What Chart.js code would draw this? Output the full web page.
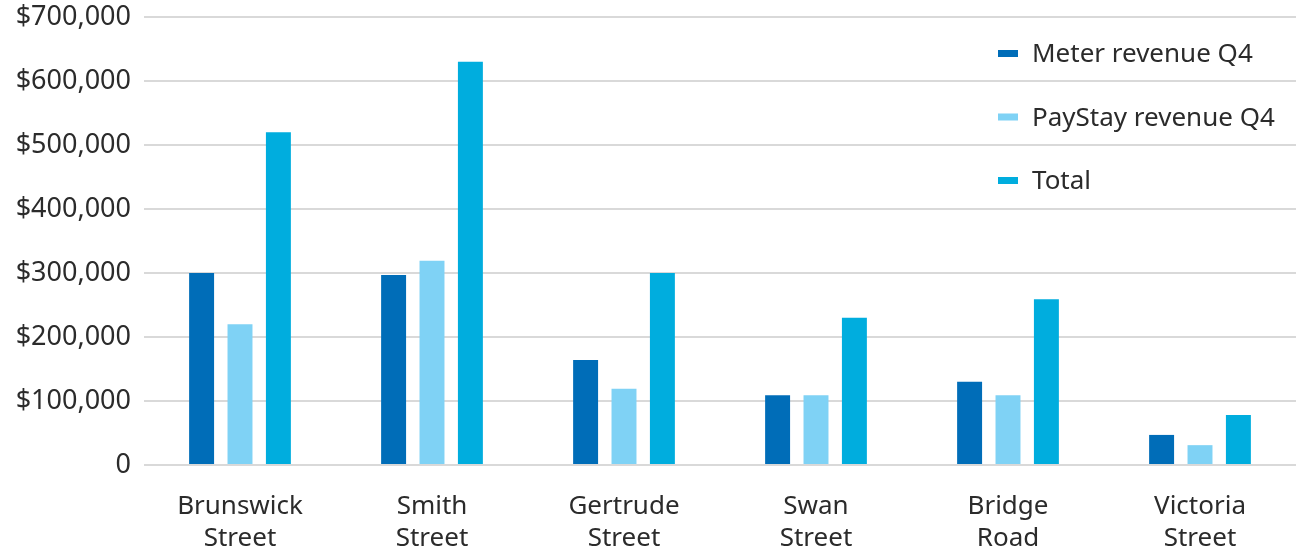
<!DOCTYPE html>
<html>
<head>
<meta charset="utf-8">
<script src="https://cdn.jsdelivr.net/npm/chart.js@4"></script>
<style>
  html, body { margin: 0; padding: 0; background: #fff; }
  #wrap { width: 1296px; height: 549px; }
</style>
</head>
<body>
<div id="wrap"><canvas id="myChart"></canvas></div>
<script>
const categories = [
    ['Brunswick', 'Street'],
    ['Smith', 'Street'],
    ['Gertrude', 'Street'],
    ['Swan', 'Street'],
    ['Bridge', 'Road'],
    ['Victoria', 'Street']
];
const meterRevenue = [300000, 297000, 164000, 109000, 130000, 47000];
const payStayRevenue = [220000, 319000, 119000, 109000, 109000, 31000];
const totalRevenue = [520000, 630000, 300000, 230000, 259000, 78000];
const yTicks = [0, 100000, 200000, 300000, 400000, 500000, 600000, 700000];

const FONT = '"Noto Sans", sans-serif';
const TEXT = '#2b2b2b';

// legend drawn inside the plot, top right, stacked vertically
const insideLegend = {
    id: 'insideLegend',
    afterDraw(chart) {
        const ctx = chart.ctx;
        ctx.save();
        ctx.font = '26px ' + FONT;
        ctx.textBaseline = 'middle';
        chart.data.datasets.forEach((ds, i) => {
            const y = 54 + i * 63.5;
            ctx.fillStyle = ds.backgroundColor;
            ctx.fillRect(998, y - 4, 20, 7);
            ctx.fillStyle = TEXT;
            ctx.fillText(ds.label, 1032, y + 1);
        });
        ctx.restore();
    }
};

const ctx = document.getElementById('myChart').getContext('2d');
new Chart(ctx, {
    type: 'bar',
    data: {
        labels: categories,
        datasets: [
            { label: 'Meter revenue Q4', data: meterRevenue, backgroundColor: '#006DB8' },
            { label: 'PayStay revenue Q4', data: payStayRevenue, backgroundColor: '#7FD2F5' },
            { label: 'Total', data: totalRevenue, backgroundColor: '#00ADDE' }
        ]
    },
    options: {
        responsive: true,
        maintainAspectRatio: false,
        animation: false,
        layout: { padding: { top: 17, right: 0, left: 0, bottom: 0 } },
        datasets: {
            bar: { categoryPercentage: 0.6, barPercentage: 0.65 }
        },
        plugins: {
            legend: { display: false },
            tooltip: { enabled: false }
        },
        scales: {
            x: {
                grid: { display: false },
                border: { display: false },
                ticks: {
                    color: TEXT,
                    font: { family: FONT, size: 26, lineHeight: 1.24 },
                    padding: 17,
                    maxRotation: 0
                },
                afterFit(scale) { scale.height = 84; }
            },
            y: {
                min: 0,
                max: 700000,
                afterBuildTicks(scale) { scale.ticks = yTicks.map(v => ({ value: v })); },
                grid: { color: '#d9d9d9', lineWidth: 2, drawTicks: false },
                border: { display: false },
                ticks: {
                    color: TEXT,
                    font: { family: FONT, size: 27 },
                    padding: 13,
                    callback: v => v === 0 ? '0' : '$' + v.toLocaleString('en-US')
                },
                afterFit(scale) {
                    scale.width = 144;
                    scale.paddingTop = 0;
                    scale.paddingBottom = 0;
                }
            }
        }
    },
    plugins: [insideLegend]
});
</script>
</body>
</html>
